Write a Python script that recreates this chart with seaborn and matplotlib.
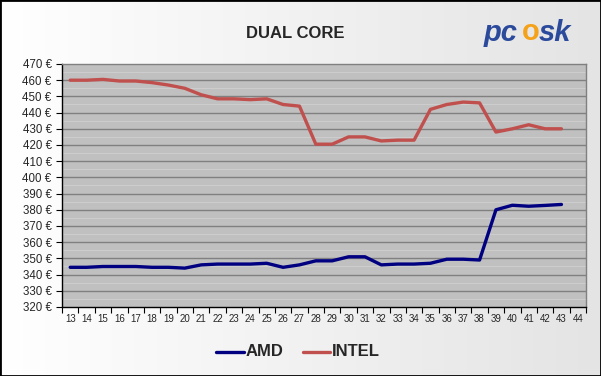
import numpy as np
import pandas as pd
import seaborn as sns
import matplotlib.pyplot as plt
from matplotlib.patches import Rectangle

weeks = list(range(13, 44))
amd = [344.5, 344.5, 345, 345, 345, 344.5, 344.5, 344, 346, 346.5, 346.5, 346.5, 347, 344.5, 346,
       348.5, 348.5, 351, 351, 346, 346.5, 346.5, 347, 349.5, 349.5, 349, 380, 382.8, 382.2, 382.7, 383.3]
intel = [460, 460, 460.5, 459.5, 459.5, 458.5, 457, 455, 451, 448.5, 448.5, 448, 448.5, 445, 444,
         420.5, 420.5, 425, 425, 422.5, 423, 423, 442, 445, 446.5, 446, 428, 430, 432.5, 430, 430]
tick_weeks = list(range(13, 45))
y_ticks = list(range(320, 471, 10))

df = pd.DataFrame({'week': weeks * 2,
                   'price': amd + intel,
                   'cpu': ['AMD'] * len(weeks) + ['INTEL'] * len(weeks)})

sns.set_style('white')
plt.rcParams['font.family'] = ['Liberation Sans', 'DejaVu Sans']

fig = plt.figure(figsize=(6.01, 3.76), dpi=100)

# background gradient
bg = fig.add_axes([0, 0, 1, 1], zorder=-10)
grad = np.linspace(0, 1, 256).reshape(1, -1)
bg.imshow(grad, aspect='auto', cmap=plt.matplotlib.colors.LinearSegmentedColormap.from_list(
    'g', ['#FFFFFF', '#E4E4E4']), extent=[0, 1, 0, 1])
bg.set_axis_off()
fig.patches.append(Rectangle((0, 0), 1, 1, transform=fig.transFigure, fill=False,
                             edgecolor='black', linewidth=2))

ax = fig.add_axes([62 / 601, 1 - 307 / 376, 524 / 601, 243 / 376])
ax.set_facecolor('#C0C0C0')

for v in range(325, 470, 10):
    ax.axhline(v, color='#CDCDCD', linewidth=0.8, zorder=0)
for v in y_ticks[1:-1]:
    ax.axhline(v, color='#808080', linewidth=1.0, zorder=1)

sns.lineplot(data=df, x='week', y='price', hue='cpu',
             palette={'AMD': '#000080', 'INTEL': '#C0504D'},
             linewidth=2.4, ax=ax, legend=False, zorder=3)

ax.set_xlim(12.5, 44.5)
ax.set_ylim(320, 470)
ax.set_xticks(tick_weeks)
ax.set_xticklabels([str(w) for w in tick_weeks], fontsize=7)
ax.set_xticks(np.arange(12.5, 45, 1), minor=True)
ax.tick_params(axis='x', which='major', length=0, pad=5)
ax.tick_params(axis='x', which='minor', length=4, width=0.8, color='black', direction='out', bottom=True)
ax.set_yticks(y_ticks)
ax.set_yticklabels([f'{v} €' for v in y_ticks], fontsize=8.3)
ax.tick_params(axis='y', length=4, width=0.8, color='black', direction='out', left=True)
ax.set_xlabel('')
ax.set_ylabel('')

for s in ['top', 'right']:
    ax.spines[s].set_color('#808080')
for s in ['left', 'bottom']:
    ax.spines[s].set_color('black')
for s in ax.spines.values():
    s.set_linewidth(1)

fig.text(295 / 601, 1 - 33 / 376, 'DUAL CORE', ha='center', va='center',
         fontsize=12, fontweight='bold')

# logo
fig.text(484 / 601, 1 - 33 / 376, 'pc', ha='left', va='center', fontsize=21,
         fontweight='bold', style='italic', color='#2B4A9C')
fig.text(522 / 601, 1 - 32 / 376, 'o', ha='left', va='center', fontsize=21,
         fontweight='bold', color='#F5A21B')
fig.text(539 / 601, 1 - 33 / 376, 'sk', ha='left', va='center', fontsize=21,
         fontweight='bold', style='italic', color='#2B4A9C')

# legend
ly = 1 - 352 / 376
fig.add_artist(plt.Line2D([216 / 601, 244 / 601], [ly, ly], color='#000080', linewidth=2.4))
fig.text(246 / 601, ly, 'AMD', ha='left', va='center', fontsize=12, fontweight='bold')
fig.add_artist(plt.Line2D([303 / 601, 330 / 601], [ly, ly], color='#C0504D', linewidth=2.4))
fig.text(332 / 601, ly, 'INTEL', ha='left', va='center', fontsize=12, fontweight='bold')

fig.savefig('out.png', dpi=100)
